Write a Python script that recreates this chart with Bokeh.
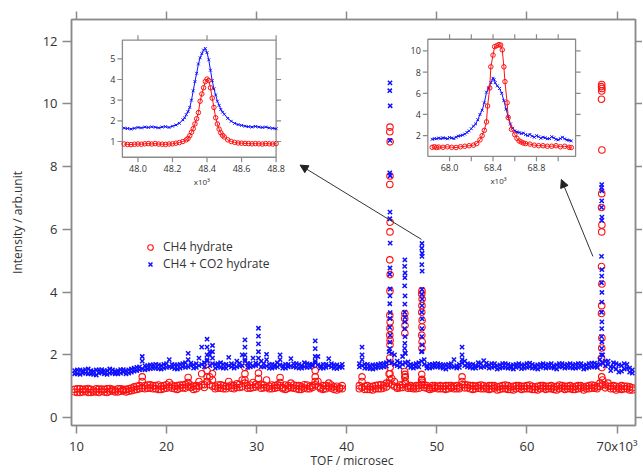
import numpy as np
from bokeh.plotting import figure
from bokeh.models import (Range1d, LinearAxis, FixedTicker, Legend, LegendItem,
                          Arrow, NormalHead, ColumnDataSource)
from bokeh.core.properties import value
from bokeh.embed import file_html
from bokeh.resources import INLINE

# ---------------- main pattern (TOF in 10^3 microsec) ----------------
x_ticks = [10, 20, 30, 40, 50, 60, 70]
y_ticks = [0, 2, 4, 6, 8, 10, 12]

tof_step = 0.3
tof_left_start = 9.8
tof_right_start = 41.4

# two noisy rows of points per TOF bin (upper / lower scatter of the band)
ch4_left = [
    0.82, 0.92, 0.80, 0.90, 0.84, 0.93, 0.80, 0.88, 0.82, 0.91,
    0.84, 0.90, 0.80, 0.93, 0.85, 0.88, 0.82, 0.92, 0.86, 0.90,
    0.84, 0.94, 0.88, 1.00, 0.92, 1.30, 1.02, 0.94, 1.05, 0.92,
    1.02, 0.90, 1.00, 0.92, 1.05, 1.12, 0.94, 1.00, 0.90, 1.04,
    0.95, 1.06, 1.28, 0.96, 0.90, 1.02, 1.15, 1.40, 1.05, 1.70,
    1.30, 1.40, 1.00, 0.94, 1.05, 0.92, 1.00, 1.15, 0.94, 1.02,
    1.08, 0.96, 1.20, 1.60, 1.02, 0.94, 1.12, 0.98, 1.42, 1.06,
    0.95, 1.20, 1.00, 0.92, 1.02, 1.05, 1.28, 0.96, 0.90, 1.02,
    1.10, 0.94, 1.02, 0.90, 0.98, 1.05, 0.92, 1.00, 0.96, 1.50,
    1.15, 0.96, 0.90, 1.02, 1.10, 0.94, 0.98, 0.88, 0.95, 0.92,
]
ch4_left_b = [
    0.90, 0.80, 0.92, 0.82, 0.91, 0.80, 0.90, 0.82, 0.92, 0.80,
    0.91, 0.82, 0.92, 0.84, 0.90, 0.82, 0.92, 0.84, 0.90, 0.82,
    0.92, 0.86, 0.98, 0.90, 1.02, 0.94, 0.92, 1.04, 0.94, 1.02,
    0.92, 1.04, 0.90, 1.02, 0.94, 0.98, 1.04, 0.92, 1.02, 0.94,
    1.04, 0.94, 1.00, 1.04, 1.00, 0.92, 1.00, 1.05, 0.96, 1.15,
    1.05, 1.00, 0.92, 1.04, 0.94, 1.02, 0.92, 1.00, 1.04, 0.92,
    0.96, 1.06, 0.98, 1.10, 0.94, 1.04, 0.96, 1.06, 1.02, 0.94,
    1.04, 0.96, 0.92, 1.04, 0.94, 0.96, 1.02, 0.92, 1.04, 0.94,
    0.96, 1.04, 0.92, 1.02, 0.90, 0.94, 1.04, 0.92, 1.02, 1.05,
    1.00, 0.92, 1.02, 0.92, 0.98, 1.04, 0.90, 1.00, 0.92, 1.02,
]
co2_left = [
    1.40, 1.52, 1.38, 1.50, 1.42, 1.55, 1.40, 1.48, 1.36, 1.52,
    1.44, 1.50, 1.38, 1.55, 1.42, 1.48, 1.40, 1.53, 1.45, 1.50,
    1.42, 1.55, 1.48, 1.60, 1.52, 1.95, 1.65, 1.55, 1.68, 1.58,
    1.70, 1.56, 1.66, 1.58, 1.72, 1.85, 1.60, 1.68, 1.55, 1.70,
    1.62, 1.75, 2.05, 1.66, 1.58, 1.72, 1.90, 2.25, 1.75, 2.50,
    2.10, 2.30, 1.70, 1.62, 1.75, 1.58, 1.70, 1.92, 1.62, 1.68,
    1.80, 1.65, 2.00, 2.48, 1.72, 1.62, 1.90, 1.66, 2.85, 1.80,
    1.62, 2.02, 1.70, 1.58, 1.68, 1.75, 2.00, 1.66, 1.58, 1.70,
    1.88, 1.62, 1.72, 1.58, 1.66, 1.75, 1.60, 1.70, 1.65, 2.45,
    1.95, 1.65, 1.58, 1.70, 1.88, 1.62, 1.68, 1.56, 1.64, 1.60,
]
co2_left_b = [
    1.50, 1.40, 1.52, 1.42, 1.53, 1.40, 1.50, 1.38, 1.52, 1.42,
    1.53, 1.40, 1.50, 1.42, 1.52, 1.40, 1.50, 1.42, 1.53, 1.40,
    1.52, 1.45, 1.58, 1.50, 1.62, 1.55, 1.52, 1.66, 1.56, 1.68,
    1.58, 1.68, 1.55, 1.70, 1.60, 1.62, 1.70, 1.56, 1.68, 1.58,
    1.72, 1.60, 1.62, 1.74, 1.68, 1.60, 1.66, 1.70, 1.62, 1.80,
    1.66, 1.72, 1.58, 1.72, 1.60, 1.70, 1.58, 1.66, 1.72, 1.58,
    1.62, 1.74, 1.66, 1.80, 1.60, 1.72, 1.64, 1.74, 1.70, 1.62,
    1.72, 1.64, 1.58, 1.70, 1.60, 1.62, 1.68, 1.58, 1.70, 1.62,
    1.64, 1.72, 1.60, 1.70, 1.58, 1.62, 1.72, 1.60, 1.70, 1.75,
    1.68, 1.58, 1.70, 1.60, 1.66, 1.72, 1.58, 1.68, 1.60, 1.70,
]
ch4_right = [
    0.92, 1.30, 1.00, 0.90, 0.98, 0.88, 1.02, 0.92, 1.05, 0.94,
    1.10, 1.40, 1.25, 1.15, 0.98, 0.95, 1.05, 1.30, 1.00, 0.94,
    0.98, 0.92, 1.02, 1.20, 1.05, 0.94, 0.90, 1.02, 0.95, 1.00,
    0.92, 1.00, 0.90, 1.02, 0.95, 1.00, 0.92, 0.98, 1.30, 1.05,
    0.95, 1.02, 0.90, 1.00, 0.94, 1.04, 0.92, 0.98, 0.90, 1.02,
    0.94, 0.88, 1.00, 0.92, 1.04, 0.90, 0.98, 0.88, 1.02, 0.94,
    0.90, 1.00, 0.92, 1.04, 0.90, 0.98, 0.88, 1.02, 0.94, 0.90,
    1.00, 0.92, 0.98, 0.88, 1.04, 0.94, 0.90, 1.00, 0.92, 0.98,
    0.90, 1.02, 0.94, 0.88, 1.00, 0.92, 1.04, 0.94, 0.98, 1.10,
    1.20, 1.05, 1.00, 0.92, 1.02, 0.88, 0.98, 0.90, 1.00, 0.92, 0.88, 0.95,
]
ch4_right_b = [
    1.02, 0.96, 0.90, 1.02, 0.90, 1.00, 0.92, 1.04, 0.92, 1.02,
    0.98, 1.10, 1.05, 1.00, 0.94, 1.04, 0.96, 1.08, 0.94, 1.02,
    0.92, 1.02, 0.94, 1.06, 0.96, 1.02, 0.96, 0.92, 1.02, 0.92,
    1.02, 0.92, 1.02, 0.92, 1.02, 0.92, 1.02, 0.92, 1.05, 0.95,
    1.04, 0.92, 1.02, 0.92, 1.02, 0.92, 1.02, 0.92, 1.02, 0.92,
    1.02, 0.98, 0.90, 1.02, 0.92, 1.02, 0.90, 1.00, 0.92, 1.02,
    1.00, 0.92, 1.02, 0.92, 1.00, 0.90, 1.00, 0.92, 1.02, 1.00,
    0.92, 1.02, 0.90, 1.00, 0.92, 1.02, 1.00, 0.92, 1.02, 0.90,
    1.00, 0.92, 1.02, 0.98, 0.92, 1.02, 0.94, 1.02, 0.92, 1.00,
    1.05, 0.95, 1.10, 1.00, 0.92, 1.00, 0.92, 1.02, 0.92, 1.00, 0.98, 0.88,
]
co2_right = [
    1.62, 2.25, 1.70, 1.58, 1.66, 1.55, 1.68, 1.60, 1.72, 1.62,
    1.75, 2.10, 2.05, 2.00, 1.80, 1.75, 1.95, 2.05, 1.78, 1.70,
    1.68, 1.62, 1.75, 2.10, 1.85, 1.66, 1.58, 1.70, 1.62, 1.72,
    1.60, 1.68, 1.55, 1.70, 1.62, 1.85, 1.66, 1.60, 2.25, 1.80,
    1.62, 1.70, 1.58, 1.66, 1.75, 1.60, 1.82, 1.64, 1.58, 1.72,
    1.62, 1.55, 1.68, 1.60, 1.72, 1.58, 1.66, 1.55, 1.70, 1.62,
    1.56, 1.68, 1.60, 1.74, 1.58, 1.66, 1.55, 1.70, 1.62, 1.58,
    1.70, 1.60, 1.66, 1.55, 1.72, 1.62, 1.58, 1.70, 1.60, 1.68,
    1.58, 1.72, 1.62, 1.55, 1.68, 1.60, 1.74, 1.62, 1.70, 1.85,
    2.00, 1.80, 1.70, 1.62, 1.75, 1.55, 1.68, 1.48, 1.72, 1.58, 1.45, 1.52,
]
co2_right_b = [
    1.72, 1.66, 1.58, 1.70, 1.56, 1.68, 1.58, 1.70, 1.60, 1.72,
    1.64, 1.80, 1.75, 1.70, 1.66, 1.62, 1.70, 1.75, 1.66, 1.60,
    1.58, 1.72, 1.62, 1.80, 1.70, 1.58, 1.70, 1.60, 1.72, 1.62,
    1.70, 1.58, 1.68, 1.60, 1.72, 1.62, 1.58, 1.70, 1.75, 1.66,
    1.72, 1.60, 1.70, 1.58, 1.64, 1.72, 1.62, 1.74, 1.68, 1.60,
    1.72, 1.66, 1.58, 1.72, 1.60, 1.70, 1.58, 1.68, 1.60, 1.72,
    1.68, 1.58, 1.72, 1.62, 1.70, 1.58, 1.68, 1.60, 1.72, 1.68,
    1.60, 1.72, 1.58, 1.68, 1.62, 1.72, 1.68, 1.60, 1.72, 1.58,
    1.70, 1.60, 1.72, 1.66, 1.58, 1.72, 1.62, 1.74, 1.60, 1.70,
    1.75, 1.65, 1.80, 1.50, 1.62, 1.72, 1.45, 1.66, 1.55, 1.70, 1.58, 1.42,
]

# weak reflections: extra stacked points on the small peaks
ch4_minor_tof = [17.3, 22.4, 24.5, 24.5, 24.5, 25.1, 28.7, 28.7, 30.2,
                 32.6, 36.5, 36.5, 41.7, 46.5, 52.8]
ch4_minor_int = [1.15, 1.12, 1.50, 1.30, 1.15, 1.20, 1.40, 1.20, 1.25,
                 1.12, 1.30, 1.15, 1.15, 1.15, 1.15]
co2_minor_tof = [17.3, 22.4, 24.5, 24.5, 24.5, 24.8, 25.1, 25.1, 28.7, 28.7,
                 28.7, 30.2, 30.2, 30.2, 30.2, 31.1, 32.6, 36.5, 36.5, 36.5,
                 41.7, 41.7, 52.8, 52.8]
co2_minor_int = [1.80, 1.85, 2.25, 2.00, 1.85, 2.00, 2.10, 1.90, 2.25, 2.00,
                 1.85, 2.60, 2.35, 2.10, 1.90, 1.85, 1.85, 2.20, 1.95, 1.80,
                 2.00, 1.85, 2.00, 1.85]

# strong reflections (stacked points)
ch4_peak_tof = [
    44.80, 44.78, 44.82, 44.80, 44.78, 44.82, 44.80, 44.78, 44.82, 44.80,
    44.78, 44.82, 44.80, 44.78, 44.82, 44.80, 44.78, 44.82, 44.80, 44.78,
    46.45, 46.43, 46.47, 46.45, 46.43, 46.47, 46.45,
    48.35, 48.33, 48.37, 48.35, 48.33, 48.37, 48.35, 48.33, 48.37, 48.35,
    48.33, 48.37, 48.35,
    68.30, 68.28, 68.32, 68.30, 68.28, 68.32, 68.30, 68.28, 68.32, 68.30,
    68.28, 68.32, 68.30, 68.28, 68.32, 68.30, 68.28, 68.32, 68.30,
]
ch4_peak_int = [
    9.26, 9.11, 8.79, 7.70, 7.43, 6.23, 5.92, 5.03, 4.56, 4.04,
    3.26, 3.05, 2.85, 2.63, 2.47, 2.32, 1.90, 1.60, 1.40, 1.20,
    3.32, 3.16, 2.94, 2.69, 1.47, 1.38, 1.28,
    4.04, 3.94, 3.78, 3.57, 3.36, 3.10, 2.89, 2.63, 2.42, 2.21,
    1.38, 1.22, 1.13,
    10.62, 10.55, 10.49, 10.41, 10.15, 8.53, 7.14, 6.70, 6.14, 5.92,
    4.82, 4.26, 3.57, 3.32, 2.54, 2.22, 1.90, 1.60, 1.30,
]
co2_peak_tof = [
    44.80, 44.78, 44.82, 44.80, 44.78, 44.82, 44.80, 44.78, 44.82, 44.80,
    44.78, 44.82, 44.80, 44.78, 44.82, 44.80, 44.78, 44.82, 44.80, 44.78,
    46.45, 46.43, 46.47, 46.45, 46.43, 46.47, 46.45, 46.43, 46.47, 46.45,
    46.43, 46.47, 46.45, 46.43, 46.47,
    48.35, 48.33, 48.37, 48.35, 48.33, 48.37, 48.35, 48.33, 48.37, 48.35,
    48.33, 48.37, 48.35, 48.33, 48.37, 48.35,
    68.30, 68.28, 68.32, 68.30, 68.28, 68.32, 68.30, 68.28, 68.32, 68.30,
    68.28, 68.32, 68.30, 68.28, 68.32, 68.30, 68.28, 68.32, 68.30, 68.28,
]
co2_peak_int = [
    10.67, 10.42, 9.94, 8.84, 7.80, 7.71, 6.55, 6.34, 5.56, 4.77,
    4.57, 4.10, 3.88, 3.63, 3.35, 3.16, 2.88, 2.63, 2.41, 2.20,
    5.03, 4.82, 4.61, 4.46, 4.20, 3.88, 3.62, 3.36, 3.20, 3.05,
    2.84, 2.58, 2.37, 2.21, 2.06,
    5.55, 5.40, 5.24, 5.14, 4.88, 4.67, 4.09, 3.94, 3.78, 3.57,
    3.36, 3.15, 2.84, 2.58, 2.32, 2.11,
    7.43, 7.33, 7.23, 6.91, 6.70, 6.39, 6.29, 5.14, 4.72, 4.51,
    4.30, 3.99, 3.68, 3.36, 3.05, 2.84, 2.58, 2.42, 2.21, 2.00,
]

# ---------------- inset 1 (peak near 48.4 x10^3) ----------------
in1_co2_tof = [
    47.92, 47.94, 47.96, 47.98, 48.00, 48.02, 48.04, 48.06, 48.08, 48.10,
    48.12, 48.14, 48.16, 48.18, 48.20, 48.22, 48.24, 48.26,
    48.27, 48.28, 48.29, 48.30, 48.31, 48.32, 48.33, 48.34, 48.35, 48.36,
    48.37, 48.38, 48.39, 48.40, 48.41, 48.42, 48.43, 48.44, 48.45, 48.46,
    48.47, 48.48, 48.49, 48.50,
    48.52, 48.54, 48.56, 48.58, 48.60, 48.62, 48.64, 48.66, 48.68, 48.70,
    48.72, 48.74, 48.76, 48.78, 48.80,
]
in1_co2 = [
    1.65, 1.63, 1.60, 1.64, 1.68, 1.66, 1.70, 1.68, 1.71, 1.69,
    1.66, 1.70, 1.72, 1.68, 1.74, 1.80, 1.88, 2.05,
    2.15, 2.30, 2.45, 2.65, 3.00, 3.45, 3.90, 4.30, 4.75, 5.05,
    5.25, 5.42, 5.50, 5.30, 4.95, 4.45, 3.95, 3.55, 3.25, 2.95,
    2.75, 2.55, 2.42, 2.32,
    2.12, 1.98, 1.88, 1.82, 1.78, 1.74, 1.72, 1.70, 1.73, 1.70,
    1.68, 1.70, 1.66, 1.64, 1.62,
]
in1_ch4_tof = [
    47.92, 47.94, 47.96, 47.98, 48.00, 48.02, 48.04, 48.06, 48.08, 48.10,
    48.12, 48.14, 48.16, 48.18, 48.20, 48.22, 48.24, 48.26, 48.28,
    48.29, 48.30, 48.31, 48.32, 48.33, 48.34, 48.35, 48.36, 48.37, 48.38,
    48.39, 48.40, 48.41, 48.42, 48.43, 48.44, 48.45, 48.46, 48.47, 48.48,
    48.49, 48.50,
    48.52, 48.54, 48.56, 48.58, 48.60, 48.62, 48.64, 48.66, 48.68, 48.70,
    48.72, 48.74, 48.76, 48.78, 48.80,
]
in1_ch4 = [
    0.88, 0.86, 0.85, 0.87, 0.88, 0.87, 0.89, 0.90, 0.88, 0.90,
    0.88, 0.87, 0.86, 0.88, 0.89, 0.92, 0.95, 1.00, 1.08,
    1.15, 1.28, 1.45, 1.62, 1.85, 2.10, 2.40, 2.95, 3.30, 3.60,
    3.90, 4.02, 3.95, 3.60, 3.10, 2.65, 2.15, 1.85, 1.60, 1.42,
    1.30, 1.22,
    1.08, 1.00, 0.96, 0.93, 0.92, 0.91, 0.90, 0.89, 0.90, 0.89,
    0.88, 0.90, 0.89, 0.88, 0.90,
]
in1_yticks = [1, 2, 3, 4, 5]
in1_xticks = [48.0, 48.2, 48.4, 48.6, 48.8]
in1_xlabels = ["48.0", "48.2", "48.4", "48.6", "48.8"]
in1_top_ticks = [48.0, 48.4, 48.8]

# ---------------- inset 2 (peak near 68.4 x10^3) ----------------
in2_co2_tof = [
    67.84, 67.86, 67.88, 67.90, 67.92, 67.94, 67.96, 67.98, 68.00, 68.02,
    68.04, 68.06, 68.08, 68.10, 68.12, 68.14, 68.16, 68.18, 68.20, 68.22,
    68.24, 68.26, 68.28, 68.30, 68.32, 68.34, 68.36, 68.38, 68.40, 68.41,
    68.42, 68.44, 68.46, 68.48, 68.50, 68.52, 68.54, 68.56, 68.58, 68.60,
    68.62, 68.64, 68.66, 68.68, 68.70, 68.72, 68.74, 68.76, 68.78, 68.80,
    68.82, 68.84, 68.86, 68.88, 68.90, 68.92, 68.94, 68.96, 68.98, 69.00,
    69.02, 69.04, 69.06, 69.08, 69.10, 69.12,
]
in2_co2 = [
    1.65, 1.72, 1.70, 1.78, 1.72, 1.80, 1.75, 1.70, 1.82, 1.78,
    1.72, 1.85, 1.95, 2.00, 2.05, 2.15, 2.30, 2.45, 2.65, 2.90,
    3.10, 3.50, 4.00, 4.40, 5.10, 6.10, 6.50, 7.00, 7.42, 7.30,
    7.00, 6.70, 6.45, 6.00, 5.30, 4.50, 3.80, 3.10, 2.70, 2.45,
    2.35, 2.30, 2.20, 2.25, 2.10, 2.00, 2.12, 1.95, 1.85, 2.00,
    1.90, 1.75, 1.85, 1.80, 1.70, 1.72, 1.90, 1.80, 1.65, 1.60,
    1.72, 1.85, 1.70, 1.60, 1.55, 1.50,
]
in2_ch4_tof = [
    67.84, 67.86, 67.88, 67.90, 67.94, 67.98, 68.02, 68.06, 68.10, 68.14,
    68.18, 68.22, 68.25, 68.28, 68.30, 68.32, 68.34, 68.35, 68.37, 68.38,
    68.40, 68.415, 68.435, 68.455, 68.47, 68.485, 68.50, 68.51, 68.53, 68.54,
    68.57, 68.60, 68.62, 68.64, 68.66, 68.68, 68.70, 68.74, 68.78, 68.82,
    68.86, 68.90, 68.94, 68.98, 69.02, 69.06, 69.10, 69.12,
]
in2_ch4 = [
    0.90, 0.95, 0.88, 0.92, 0.90, 0.95, 0.90, 0.88, 0.95, 1.00,
    1.05, 1.10, 1.25, 1.60, 2.00, 2.50, 3.30, 4.80, 6.50, 8.50,
    9.60, 10.40, 10.50, 10.60, 10.55, 10.10, 8.50, 7.10, 5.10, 3.70,
    2.60, 2.10, 1.75, 1.50, 1.40, 1.30, 1.25, 1.20, 1.10, 1.05,
    1.05, 1.00, 1.00, 1.05, 0.95, 1.00, 0.90, 0.88,
]
in2_yticks = [2, 4, 6, 8, 10]
in2_xticks = [68.0, 68.2, 68.4, 68.6, 68.8, 69.0]
in2_label_ticks = [68.0, 68.4, 68.8]
in2_xlabels = ["68.0", "68.4", "68.8"]

# ---------------- styling ----------------
RED = "#ff1010"
BLUE = "#1010ff"
AX = "#8a8a8a"
TXT = "#333333"
FONT = "Open Sans"

tof_left = np.round(tof_left_start + tof_step * np.arange(len(ch4_left)), 2)
tof_right = np.round(tof_right_start + tof_step * np.arange(len(ch4_right)), 2)

ch4_src = ColumnDataSource(dict(
    tof=np.concatenate([tof_left, tof_left, tof_right, tof_right,
                        ch4_minor_tof, ch4_peak_tof]),
    inten=np.concatenate([ch4_left, ch4_left_b, ch4_right, ch4_right_b,
                          ch4_minor_int, ch4_peak_int])))
co2_src = ColumnDataSource(dict(
    tof=np.concatenate([tof_left, tof_left, tof_right, tof_right,
                        co2_minor_tof, co2_peak_tof]),
    inten=np.concatenate([co2_left, co2_left_b, co2_right, co2_right_b,
                          co2_minor_int, co2_peak_int])))

p = figure(width=642, height=471, output_backend="svg", toolbar_location=None,
           x_range=Range1d(9.45, 72.05), y_range=Range1d(-0.25, 12.69),
           min_border_left=71, min_border_right=7, min_border_top=19,
           min_border_bottom=39)
p.background_fill_color = "white"
p.border_fill_color = "white"
p.outline_line_color = AX
p.outline_line_width = 1.5
p.xgrid.visible = False
p.ygrid.visible = False


def style_axis(ax, out):
    ax.axis_line_color = AX
    ax.axis_line_width = 1.5
    ax.major_tick_line_color = AX
    ax.major_tick_line_width = 1.5
    ax.major_tick_in = 0
    ax.major_tick_out = out
    ax.minor_tick_line_color = None
    ax.major_label_text_font = FONT
    ax.major_label_text_font_size = "13px"
    ax.major_label_text_color = TXT
    ax.axis_label_text_font = FONT
    ax.axis_label_text_font_size = "12px"
    ax.axis_label_text_font_style = "normal"
    ax.axis_label_text_color = TXT


xa = p.xaxis[0]
style_axis(xa, 8)
xa.ticker = FixedTicker(ticks=x_ticks)
xa.major_label_overrides = {70: "70x10\u00b3"}
xa.axis_label = "TOF /  microsec"
xa.major_label_standoff = 3
xa.axis_label_standoff = -6

ya = p.yaxis[0]
style_axis(ya, 9)
ya.ticker = FixedTicker(ticks=y_ticks)
ya.axis_label = "Intensity / arb.unit"
ya.major_label_standoff = 5
ya.axis_label_standoff = 14

top_ax = LinearAxis(ticker=FixedTicker(ticks=x_ticks))
style_axis(top_ax, 8)
top_ax.major_label_text_font_size = "1px"
top_ax.major_label_text_color = None
top_ax.major_label_standoff = 0
p.add_layout(top_ax, "above")

right_ax = LinearAxis(ticker=FixedTicker(ticks=y_ticks))
style_axis(right_ax, 7)
right_ax.major_label_text_font_size = "1px"
right_ax.major_label_text_color = None
right_ax.major_label_standoff = 0
p.add_layout(right_ax, "right")

r_ch4 = p.scatter("tof", "inten", source=ch4_src, marker="circle", size=6.5,
                  fill_color=None, line_color=RED, line_width=1.1)
r_co2 = p.scatter("tof", "inten", source=co2_src, marker="x", size=6,
                  line_color=BLUE, line_width=1.5)


def draw_inset(xs, ys, xt, yt, co2_t, co2_v, ch4_t, ch4_v, yticks,
               bticks, tticks, lticks, xlabels, x10_at):
    g = p.subplot(x_source=xs, y_source=ys, x_target=xt, y_target=yt)
    g.quad(left=[xs.start], right=[xs.end], bottom=[ys.start], top=[ys.end],
           fill_color="white", line_color=AX, line_width=1.3)
    g.line(co2_t, co2_v, line_color=BLUE, line_width=1)
    g.scatter(co2_t, co2_v, marker="x", size=4, line_color=BLUE, line_width=1)
    g.line(ch4_t, ch4_v, line_color=RED, line_width=1)
    g.scatter(ch4_t, ch4_v, marker="circle", size=4.5, fill_color=None,
              line_color=RED, line_width=1)
    n = len(yticks)
    g.ray(x=[xs.start] * n, y=yticks, length=5, length_units="screen",
          angle=np.pi, line_color=AX, line_width=1.2)
    g.ray(x=[xs.end] * n, y=yticks, length=5, length_units="screen",
          angle=0, line_color=AX, line_width=1.2)
    g.ray(x=bticks, y=[ys.start] * len(bticks), length=5, length_units="screen",
          angle=-np.pi / 2, line_color=AX, line_width=1.2)
    g.ray(x=tticks, y=[ys.end] * len(tticks), length=5, length_units="screen",
          angle=np.pi / 2, line_color=AX, line_width=1.2)
    g.text(x=[xs.start] * n, y=yticks, text=[str(t) for t in yticks],
           x_offset=-7, text_align="right", text_baseline="middle",
           text_font=value(FONT), text_font_size="9px", text_color=TXT)
    g.text(x=lticks, y=[ys.start] * len(lticks), text=xlabels,
           y_offset=8, text_align="center", text_baseline="top",
           text_font=value(FONT), text_font_size="9px", text_color=TXT)
    g.text(x=[x10_at], y=[ys.start], text=["x10\u00b3"],
           y_offset=19, text_align="center", text_baseline="top",
           text_font=value(FONT), text_font_size="8px", text_color=TXT)


draw_inset(Range1d(47.91, 48.80), Range1d(0.24, 5.9),
           Range1d(15.10, 32.16), Range1d(8.30, 12.03),
           in1_co2_tof, in1_co2, in1_ch4_tof, in1_ch4, in1_yticks,
           in1_xticks, in1_top_ticks, in1_xticks, in1_xlabels, 48.37)
draw_inset(Range1d(67.80, 69.16), Range1d(0.05, 11.1),
           Range1d(49.00, 65.40), Range1d(8.33, 12.06),
           in2_co2_tof, in2_co2, in2_ch4_tof, in2_ch4, in2_yticks,
           in2_xticks, in2_xticks, in2_label_ticks, in2_xlabels, 68.45)

p.add_layout(Arrow(end=NormalHead(size=8, fill_color="#222222", line_color="#222222"),
                   x_start=48.30, y_start=5.68, x_end=34.82, y_end=8.05,
                   line_color="#333333", line_width=1))
p.add_layout(Arrow(end=NormalHead(size=8, fill_color="#222222", line_color="#222222"),
                   x_start=67.32, y_start=5.14, x_end=63.82, y_end=7.59,
                   line_color="#333333", line_width=1))

legend = Legend(items=[LegendItem(label="CH4 hydrate", renderers=[r_ch4]),
                       LegendItem(label="CH4 + CO2 hydrate", renderers=[r_co2])],
                location=(72, 153), background_fill_alpha=0, border_line_color=None,
                label_text_font=FONT, label_text_font_size="12px",
                label_text_color=TXT, glyph_width=14, glyph_height=16,
                label_height=16, spacing=0, padding=0, margin=0, label_standoff=6)
p.add_layout(legend)

open("out.html", "w").write(file_html(p, INLINE))
